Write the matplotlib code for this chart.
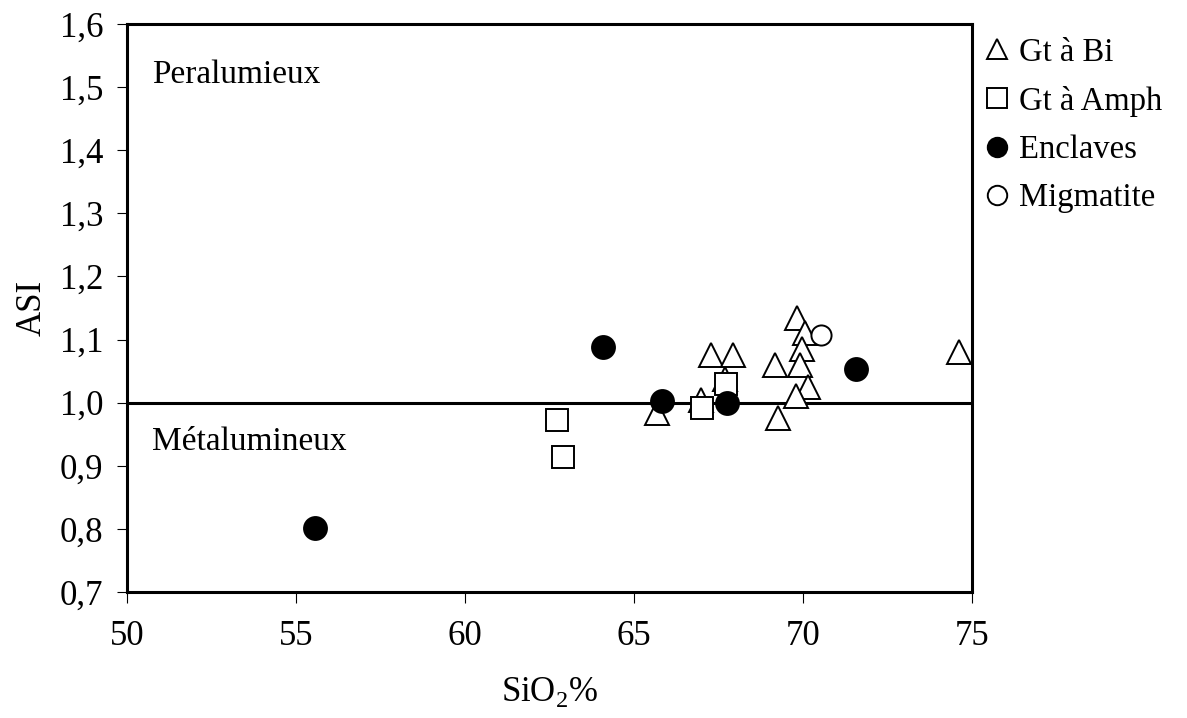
"""ASI vs SiO2 diagram (peralumineux / metalumineux)"""
import matplotlib
matplotlib.use("Agg")
import matplotlib.pyplot as plt
from matplotlib.lines import Line2D
from matplotlib.ticker import FuncFormatter, MultipleLocator

plt.rcParams["font.family"] = ["Liberation Serif", "DejaVu Serif"]
plt.rcParams["mathtext.fontset"] = "custom"
plt.rcParams["mathtext.rm"] = "Liberation Serif"

# Gt a Bi (triangles)
bi_sio2 = [69.81, 70.06, 69.96, 67.27, 67.94, 69.17, 69.91, 74.60, 67.69, 70.14, 69.79, 66.97, 65.67, 69.25]
bi_asi = [1.134, 1.111, 1.085, 1.076, 1.076, 1.060, 1.060, 1.080, 1.038, 1.025, 1.011, 1.004, 0.983, 0.975]

# Gt a Amph (squares)
amph_sio2 = [67.71, 67.02, 62.71, 62.91]
amph_asi = [1.029, 0.992, 0.972, 0.914]

# Enclaves (filled circles)
encl_sio2 = [65.84, 67.74, 71.57, 64.09, 55.56]
encl_asi = [1.003, 0.999, 1.053, 1.088, 0.801]

# Migmatite (open circle)
migm_sio2 = [70.53]
migm_asi = [1.108]

labels = ["Gt à Bi", "Gt à Amph", "Enclaves", "Migmatite"]

FS = 25

fig = plt.figure(figsize=(11.87, 7.18), dpi=100)
ax = fig.add_axes([0.107, 0.1755, 0.712, 0.791])

ax.axhline(1.0, color="black", lw=2.2, zorder=1)

mk = dict(linestyle="none", markeredgecolor="black", markeredgewidth=1.4, zorder=3)
ax.plot(bi_sio2, bi_asi, marker="^", ms=17, markerfacecolor="white", **mk)
ax.plot(amph_sio2, amph_asi, marker="s", ms=15.5, markerfacecolor="white", **mk)
ax.plot(encl_sio2, encl_asi, marker="o", ms=16.5, markerfacecolor="black", **mk)
ax.plot(migm_sio2, migm_asi, marker="o", ms=14.5, markerfacecolor="white", **mk)

ax.set_xlim(50, 75)
ax.set_ylim(0.7, 1.6)
ax.xaxis.set_major_locator(MultipleLocator(5))
ax.yaxis.set_major_locator(MultipleLocator(0.1))
ax.yaxis.set_major_formatter(FuncFormatter(lambda v, p: f"{v:.1f}".replace(".", ",")))

for s in ax.spines.values():
    s.set_linewidth(2.2)
ax.tick_params(axis="x", direction="out", length=8, width=0.8, pad=12, labelsize=FS)
ax.tick_params(axis="y", direction="out", length=7, width=0.8, pad=10, labelsize=FS)

ax.set_xlabel(r"SiO$_2$%", fontsize=FS, labelpad=16)
ax.set_ylabel("ASI", fontsize=FS, labelpad=8)

ax.text(50.74, 1.519, "Peralumieux", fontsize=24, va="center", ha="left")
ax.text(50.74, 0.938, "Métalumineux", fontsize=24, va="center", ha="left")

handles = [
    Line2D([], [], marker="^", ms=14, markerfacecolor="white", **mk),
    Line2D([], [], marker="s", ms=14, markerfacecolor="white", **mk),
    Line2D([], [], marker="o", ms=14, markerfacecolor="black", **mk),
    Line2D([], [], marker="o", ms=14, markerfacecolor="white", **mk),
]
ax.legend(handles, labels, loc="upper left", bbox_to_anchor=(1.0, 1.0), frameon=False,
          fontsize=23.5, handlelength=0.75, handletextpad=0.3, labelspacing=0.55,
          borderaxespad=0.0)

fig.savefig("out.png", dpi=100)
